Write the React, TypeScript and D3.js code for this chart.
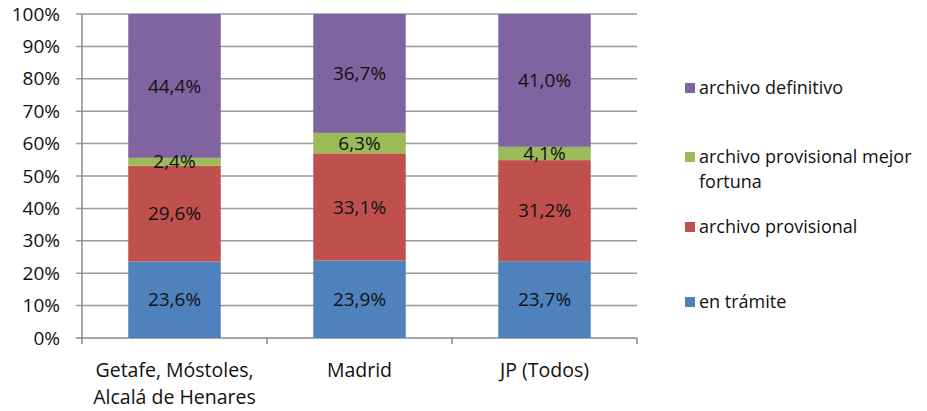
import React from "react";
import * as d3 from "d3";

const categories: string[][] = [
  ["Getafe, Móstoles,", "Alcalá de Henares"],
  ["Madrid"],
  ["JP (Todos)"],
];
const seriesNames = [
  "en trámite",
  "archivo provisional",
  "archivo provisional mejor fortuna",
  "archivo definitivo",
];
const enTramite = [23.6, 23.9, 23.7];
const archivoProvisional = [29.6, 33.1, 31.2];
const archivoMejorFortuna = [2.4, 6.3, 4.1];
const archivoDefinitivo = [44.4, 36.7, 41.0];
const colors = ["#4F81BD", "#C0504D", "#9BBB59", "#8064A2"];
const yTicks = [0, 10, 20, 30, 40, 50, 60, 70, 80, 90, 100];
const legendLines: string[][] = [
  ["archivo definitivo"],
  ["archivo provisional mejor", "fortuna"],
  ["archivo provisional"],
  ["en trámite"],
];
const legendColorIdx = [3, 2, 1, 0];

const W = 927;
const H = 411;
const FONT = "'Open Sans', sans-serif";

export default function App() {
  const left = 82, right = 637, top = 14, bottom = 338;
  const x = d3.scaleBand<number>().domain([0, 1, 2]).range([left, right]).paddingInner(0.5).paddingOuter(0.25);
  const y = d3.scaleLinear().domain([0, 100]).range([bottom, top]);
  const series = [enTramite, archivoProvisional, archivoMejorFortuna, archivoDefinitivo];
  const table = categories.map((_, i) => ({
    k0: series[0][i], k1: series[1][i], k2: series[2][i], k3: series[3][i],
  }));
  const stacked = d3.stack<any>().keys(["k0", "k1", "k2", "k3"])(table);
  const fmt = (v: number) => v.toFixed(1).replace(".", ",") + "%";
  const catW = (right - left) / 3;
  const gridColor = "#9a9a9a";
  const axisColor = "#8a8a8a";
  const legendY = [88, 157, 227, 302];
  const textColor = "#111";

  return (
    <svg width={W} height={H} style={{ position: "absolute", left: 0, top: 0, background: "#fff" }}>
      <rect x={0} y={0} width={W} height={H} fill="#fff" />
      {yTicks.map((t) => (
        <g key={t}>
          <line x1={left - 6} x2={right} y1={y(t)} y2={y(t)} stroke={t === 0 ? axisColor : gridColor} strokeWidth={1.5} />
          <text x={60} y={y(t)} dy="0.35em" textAnchor="end" fontFamily={FONT} fontSize={19} fill={textColor}>
            {t + "%"}
          </text>
        </g>
      ))}
      <line x1={left} x2={left} y1={top} y2={bottom} stroke={axisColor} strokeWidth={1.5} />
      {[0, 1, 2, 3].map((i) => (
        <line key={i} x1={left + i * catW} x2={left + i * catW} y1={bottom} y2={bottom + 6} stroke={axisColor} strokeWidth={1.5} />
      ))}
      {stacked.map((s, si) => (
        <g key={si}>
          {s.map((d, i) => (
            <rect key={i} x={x(i)} width={x.bandwidth()} y={y(d[1])} height={y(d[0]) - y(d[1])} fill={colors[si]} />
          ))}
        </g>
      ))}
      {stacked.map((s, si) => (
        <g key={"l" + si}>
          {s.map((d, i) => (
            <text key={i} x={(x(i) as number) + x.bandwidth() / 2} y={y((d[0] + d[1]) / 2)} dy="0.35em" textAnchor="middle" fontFamily={FONT} fontSize={19} fill={textColor}>
              {fmt(d[1] - d[0])}
            </text>
          ))}
        </g>
      ))}
      {categories.map((lines, i) => (
        <text key={i} textAnchor="middle" fontFamily={FONT} fontSize={19.5} fill={textColor}>
          {lines.map((l, j) => (
            <tspan key={j} x={(x(i) as number) + x.bandwidth() / 2} y={377 + j * 27}>{l}</tspan>
          ))}
        </text>
      ))}
      {legendLines.map((lines, i) => (
        <g key={i}>
          <rect x={685} y={legendY[i] - 5} width={10} height={10} fill={colors[legendColorIdx[i]]} />
          {lines.map((l, j) => (
            <text key={j} x={699} y={legendY[i] + j * 25} dy="0.35em" fontFamily={FONT} fontSize={18} fill={textColor}>{l}</text>
          ))}
        </g>
      ))}
    </svg>
  );
}
